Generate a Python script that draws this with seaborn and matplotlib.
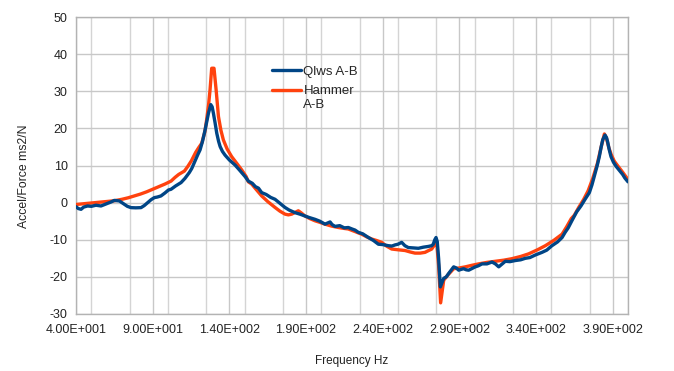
import matplotlib
matplotlib.use("Agg")
import matplotlib.pyplot as plt
from matplotlib.ticker import MultipleLocator
from matplotlib.legend_handler import HandlerLine2D
import numpy as np
import seaborn as sns
import pandas as pd

# ---- data ----
freq_qlws = [40, 41.5, 43.3, 45, 47.6, 50, 53, 56.3, 60, 63, 65, 68.3, 71.5, 73.5, 75.9, 79,
             82.4, 84.5, 86.7, 89, 91.1, 93, 95.4, 98, 100.3, 102, 105, 108.5, 111, 113.9,
             115.5, 117.2, 119.3, 120.9, 122.5, 124.2, 126.4, 127.9, 128.8, 129.6, 130.7,
             131.8, 133, 134, 135.5, 137.2, 140, 143.8, 147, 150.3, 152.4, 155, 157, 159,
             161.1, 164, 167, 169.8, 173, 176.3, 179, 182.8, 186, 189.3, 192, 195.9, 199,
             202.4, 205.7, 207, 208.9, 212, 215, 217.6, 220, 222, 224.1, 227, 230.7, 234,
             237.2, 240, 243.7, 246, 248, 250, 252.4, 254.5, 256.7, 260, 263.3, 266.5, 269.8,
             272, 273, 274, 274.8, 275.6, 276.5, 277.6, 279.8, 281.5, 283, 285, 286.3, 288,
             289.6, 291, 292.8, 294.5, 296.1, 298, 300.4, 302.5, 304.8, 308, 311.3, 313.5,
             315.7, 318, 320, 323, 326.5, 330, 333, 336, 339.6, 343.9, 347, 350.4, 354, 357,
             359, 361, 363.5, 366.5, 369.3, 372, 374.8, 376.5, 378, 379.8, 381.3, 382.5,
             383.5, 385, 386, 386.7, 387.8, 388.9, 390.5, 392.2, 394.5, 396.5, 398, 400]
accel_qlws = [-1.1, -1.6, -1.8, -1.2, -0.9, -1.0, -0.7, -0.9, -0.3, 0.2, 0.6, 0.45, -0.45, -1.0,
              -1.35, -1.4, -1.35, -0.8, 0.0, 0.8, 1.35, 1.5, 1.8, 2.6, 3.4, 3.6, 4.5, 5.4, 6.5,
              8.1, 9.2, 10.8, 12.8, 14.2, 16.5, 19.6, 24.1, 26.4, 25.8, 24.1, 21.5, 18.7, 16.5,
              15.1, 13.8, 12.8, 11.5, 10.1, 8.6, 7.0, 5.8, 5.2, 4.3, 3.9, 2.7, 2.2, 1.4, 0.9,
              -0.2, -1.3, -2.0, -2.7, -3.1, -3.6, -4.0, -4.5, -5.0, -5.8, -5.2, -5.9, -6.4,
              -6.2, -6.8, -6.7, -7.1, -7.4, -8.0, -8.4, -9.4, -10.2, -11.2, -11.3, -11.6,
              -11.7, -11.4, -11.2, -10.7, -11.6, -12.1, -12.2, -12.3, -12.0, -11.8, -11.6,
              -11.2, -10.0, -9.4, -10.5, -15.1, -22.7, -20.4, -20.0, -19.1, -18.0, -17.3,
              -17.6, -18.2, -18.0, -17.8, -18.1, -18.2, -17.8, -17.3, -17.0, -16.5, -16.5,
              -16.0, -16.5, -17.3, -16.5, -15.8, -15.9, -15.6, -15.4, -15.0, -14.8, -14.1,
              -13.4, -12.8, -11.6, -10.6, -9.4, -8.0, -6.8, -4.8, -2.5, -0.9, 0.9, 2.7, 4.8,
              7.1, 9.8, 12.4, 15.0, 16.9, 18.2, 17.5, 16.4, 14.2, 12.4, 10.9, 9.8, 8.6, 7.6,
              6.6, 5.6]

freq_hammer = [40, 45, 50, 55, 60, 65, 70, 74, 78, 82, 86, 90, 94, 98, 102, 104.6, 107, 110.7,
               113, 115.3, 118, 120, 122, 124, 125.2, 126.5, 127.4, 128.5, 130, 131.4, 132.9,
               134.5, 136.1, 138.5, 141.5, 145, 148.1, 151, 152.4, 154.6, 157, 161.1, 165,
               169.8, 173, 176.3, 178.5, 180.7, 183, 185, 187, 189.3, 192.5, 195.9, 199, 202.4,
               206.5, 211.1, 214, 217.6, 222, 226.3, 229.5, 232.8, 236, 239.3, 242.5, 245.9,
               250, 254.6, 258, 261.1, 264.5, 267.6, 270, 272, 274.1, 275.2, 276.5, 277.8,
               279.8, 282.5, 286.3, 290, 293.9, 298, 302.6, 308, 313.5, 319, 324.3, 330,
               335.2, 341, 346.1, 351.5, 357, 360, 363, 365, 368, 371, 374, 377, 380, 382.5,
               384.6, 386, 387.5, 389, 391, 393.5, 396.5, 400]
accel_hammer = [-0.5, -0.3, -0.1, 0.1, 0.3, 0.5, 0.9, 1.3, 1.8, 2.3, 2.9, 3.6, 4.3, 5.0, 5.8,
                6.8, 7.6, 8.5, 9.8, 11.3, 13.5, 14.8, 16.0, 19.0, 22.3, 26.5, 30.3, 36.2, 36.2,
                30.3, 23.2, 19.5, 16.9, 14.5, 12.4, 10.5, 8.8, 7.0, 5.6, 5.0, 3.8, 1.8, 0.3,
                -1.3, -2.3, -3.1, -3.3, -3.1, -2.6, -2.2, -2.8, -3.6, -4.3, -4.9, -5.3, -5.8,
                -6.3, -6.7, -6.9, -7.1, -7.8, -8.5, -9.2, -9.8, -10.2, -10.7, -11.7, -12.5,
                -12.7, -12.9, -13.3, -13.6, -13.6, -13.4, -12.9, -12.5, -11.2, -10.5, -17.0,
                -27.0, -20.9, -19.5, -17.8, -17.6, -17.3, -16.9, -16.5, -16.1, -15.8, -15.5,
                -15.1, -14.5, -13.8, -12.7, -11.6, -10.2, -8.5, -6.5, -4.3, -3.4, -1.2, 0.8,
                3.2, 6.5, 10.5, 15.0, 18.5, 17.3, 14.8, 13.0, 11.2, 9.8, 8.2, 6.2]

series_names = ["Qlws A-B", "Hammer\nA-B"]
series_colors = ["#004586", "#ff420e"]

x_ticks = [40, 90, 140, 190, 240, 290, 340, 390]
x_tick_labels = ["4.00E+001", "9.00E+001", "1.40E+002", "1.90E+002",
                 "2.40E+002", "2.90E+002", "3.40E+002", "3.90E+002"]
y_ticks = [-30, -20, -10, 0, 10, 20, 30, 40, 50]

# ---- figure ----
sns.set_style("white")
plt.rcParams["font.family"] = ["Liberation Sans", "DejaVu Sans"]

fig = plt.figure(figsize=(6.74, 3.71), dpi=100)
ax = fig.add_axes([76 / 674, 1 - 314 / 371, 552 / 674, 297 / 371])

df_q = pd.DataFrame({"f": freq_qlws, "a": accel_qlws})
df_h = pd.DataFrame({"f": freq_hammer, "a": accel_hammer})

sns.lineplot(data=df_h, x="f", y="a", ax=ax, color=series_colors[1], lw=2.4,
             estimator=None, sort=False, label=series_names[1], zorder=3)
sns.lineplot(data=df_q, x="f", y="a", ax=ax, color=series_colors[0], lw=2.4,
             estimator=None, sort=False, label=series_names[0], zorder=4)

ax.set_xlim(40, 400)
ax.set_ylim(-30, 50)
ax.set_xticks(x_ticks)
ax.set_xticklabels(x_tick_labels)
ax.set_yticks(y_ticks)
ax.set_yticklabels([str(v) for v in y_ticks])
ax.xaxis.set_minor_locator(MultipleLocator(25))

ax.grid(True, which="major", axis="both", color="#c8c8c8", lw=1.0)
ax.grid(True, which="minor", axis="x", color="#d4d4d4", lw=1.0)
ax.set_axisbelow(True)

for s in ax.spines.values():
    s.set_color("#b3b3b3")
    s.set_linewidth(1.0)

ax.tick_params(axis="both", which="major", length=4, width=1, color="#b3b3b3",
               labelsize=9, labelcolor="#222222", pad=2)
ax.tick_params(axis="x", which="minor", length=0)
ax.tick_params(axis="x", which="major", pad=3)

ax.set_xlabel("Frequency Hz", fontsize=8.5, color="#222222", labelpad=14)
ax.set_ylabel("Accel/Force ms2/N", fontsize=8.8, color="#222222")
ax.yaxis.set_label_coords(-0.084, 0.465)


class TopLineHandler(HandlerLine2D):
    """Align the legend line with the first line of a multi-line label."""
    def __init__(self, shift=0.0, **kw):
        super().__init__(**kw)
        self.shift = shift

    def create_artists(self, legend, orig_handle, xdescent, ydescent, width,
                       height, fontsize, trans):
        artists = super().create_artists(legend, orig_handle, xdescent, ydescent,
                                         width, height, fontsize, trans)
        for a in artists:
            a.set_ydata(np.asarray(a.get_ydata(), dtype=float) + self.shift)
        return artists


handles, labels = ax.get_legend_handles_labels()
order = [1, 0]
hs = [handles[i] for i in order]
leg = ax.legend(hs, [labels[i] for i in order],
                loc="upper left", bbox_to_anchor=(0.345, 0.855), frameon=False,
                fontsize=9.5, handlelength=2.2, handletextpad=0.2, labelspacing=0.55,
                borderaxespad=0,
                handler_map={hs[1]: TopLineHandler(shift=5.5)})

fig.savefig("out.png", dpi=100)
